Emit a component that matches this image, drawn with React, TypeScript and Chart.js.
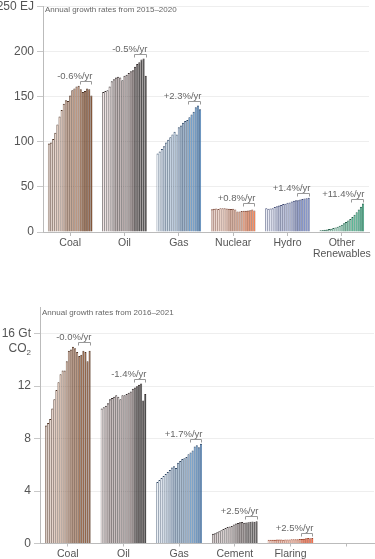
import React, { useEffect, useRef } from 'react';
import { Chart, registerables } from 'chart.js';
Chart.register(...registerables);

// ---------- Energy (EJ), 2000–2020 ----------
const energyYears = [2000, 2001, 2002, 2003, 2004, 2005, 2006, 2007, 2008, 2009, 2010, 2011, 2012, 2013, 2014, 2015, 2016, 2017, 2018, 2019, 2020];
const energyCategories: (string | string[])[] = ['Coal', 'Oil', 'Gas', 'Nuclear', 'Hydro', ['Other', 'Renewables']];
const energyCoal = [98, 99, 103, 110, 119, 128, 135, 142, 146, 145, 151, 157, 159, 161, 162, 158, 155, 156, 159, 158, 151];
const energyOil = [155, 156, 157, 161, 167, 169, 171, 172, 171, 168, 173, 174, 176, 178, 179, 183, 186, 188, 191, 192, 173];
const energyGas = [87, 89, 92, 95, 99, 102, 105, 108, 111, 108, 116, 118, 121, 123, 124, 127, 130, 133, 138, 140, 136];
const energyNuclear = [25.2, 25.7, 26.0, 25.6, 26.3, 26.2, 26.4, 25.9, 25.7, 25.4, 25.8, 24.8, 22.6, 22.8, 23.2, 23.4, 23.6, 23.8, 24.2, 24.8, 23.8];
const energyHydro = [26.2, 25.7, 25.9, 26.3, 27.8, 28.6, 29.4, 29.9, 31.0, 31.2, 32.4, 32.8, 33.7, 34.5, 35.2, 35.1, 36.0, 36.4, 37.1, 37.4, 38.0];
const energyOther = [1.8, 2.1, 2.4, 2.8, 3.2, 3.7, 4.3, 5.0, 5.9, 6.8, 8.1, 9.6, 11.2, 12.8, 14.5, 16.6, 19.0, 21.9, 24.9, 28.0, 31.5];
const energyGrowth = ['-0.6%/yr', '-0.5%/yr', '+2.3%/yr', '+0.8%/yr', '+1.4%/yr', '+11.4%/yr'];
const energyTicks = [0, 50, 100, 150, 200, 250];
const energyCaption = 'Annual growth rates from 2015\u20132020';

// ---------- CO2 (Gt), 2000–2021 ----------
const co2Years = [2000, 2001, 2002, 2003, 2004, 2005, 2006, 2007, 2008, 2009, 2010, 2011, 2012, 2013, 2014, 2015, 2016, 2017, 2018, 2019, 2020, 2021];
const co2Categories = ['Coal', 'Oil', 'Gas', 'Cement', 'Flaring', ''];
const co2Coal = [9.0, 9.2, 9.5, 10.3, 11.0, 11.7, 12.3, 12.9, 13.2, 13.2, 13.9, 14.7, 14.8, 15.0, 14.9, 14.6, 14.3, 14.4, 14.7, 14.6, 13.9, 14.7];
const co2Oil = [10.3, 10.4, 10.5, 10.7, 11.0, 11.1, 11.2, 11.3, 11.2, 11.0, 11.3, 11.3, 11.4, 11.5, 11.6, 11.8, 11.9, 12.0, 12.1, 12.2, 10.9, 11.4];
const co2Gas = [4.7, 4.85, 5.0, 5.15, 5.3, 5.45, 5.6, 5.8, 5.9, 5.75, 6.15, 6.3, 6.45, 6.5, 6.6, 6.8, 6.95, 7.1, 7.4, 7.5, 7.35, 7.6];
const co2Cement = [0.74, 0.79, 0.85, 0.93, 1.02, 1.1, 1.19, 1.26, 1.29, 1.34, 1.44, 1.53, 1.56, 1.62, 1.64, 1.58, 1.6, 1.62, 1.65, 1.67, 1.66, 1.7];
const co2Flaring = [0.28, 0.29, 0.29, 0.29, 0.3, 0.3, 0.3, 0.29, 0.3, 0.3, 0.31, 0.32, 0.32, 0.33, 0.33, 0.34, 0.35, 0.37, 0.4, 0.42, 0.4, 0.41];
const co2Growth = ['-0.0%/yr', '-1.4%/yr', '+1.7%/yr', '+2.5%/yr', '+2.5%/yr', ''];
const co2Ticks = [0, 4, 8, 12, 16];
const co2Caption = 'Annual growth rates from 2016\u20132021';

// ---------- styling ----------
type Pal = { from: string; mid: string; rFrom: string; rTo: string; border: string };
const PAL: Record<string, Pal> = {
  coal: { from: '#f3e6df', mid: '#b0846a', rFrom: '#96603f', rTo: '#7a4a2c', border: '#4e3223' },
  oil: { from: '#f3e6e6', mid: '#948686', rFrom: '#646060', rTo: '#2c2c2c', border: '#302828' },
  gas: { from: '#edf1f6', mid: '#88a4c2', rFrom: '#6598c8', rTo: '#4682c0', border: '#2f4866' },
  nuclear: { from: '#f5e6df', mid: '#c48e76', rFrom: '#f2926a', rTo: '#f47a48', border: '#7e4a3a' },
  hydro: { from: '#eceff7', mid: '#929cc2', rFrom: '#8494ca', rTo: '#6f82c2', border: '#3c4670' },
  other: { from: '#eaf6f0', mid: '#76c0a4', rFrom: '#4eb490', rTo: '#30a078', border: '#22604a' },
  cement: { from: '#f3e8e8', mid: '#9a9292', rFrom: '#747070', rTo: '#424242', border: '#383030' },
  flaring: { from: '#f7e2da', mid: '#e6a48c', rFrom: '#f67c5c', rTo: '#f2582e', border: '#9c4228' },
};
const energyPal = [PAL.coal, PAL.oil, PAL.gas, PAL.nuclear, PAL.hydro, PAL.other];
const co2Pal = [PAL.coal, PAL.oil, PAL.gas, PAL.cement, PAL.flaring, PAL.flaring];

function hex(h: string) {
  const v = h.replace('#', '');
  return [0, 2, 4].map((i) => parseInt(v.slice(i, i + 2), 16));
}
function mix(a: string, b: string, t: number) {
  const A = hex(a), B = hex(b);
  const c = A.map((x, i) => Math.round(x + (B[i] - x) * t));
  return `rgb(${c[0]},${c[1]},${c[2]})`;
}
function barColor(p: Pal, i: number, n: number) {
  const early = n - 6;
  if (i < early) return mix(p.from, p.mid, early > 1 ? i / (early - 1) : 0);
  return mix(p.rFrom, p.rTo, (i - early) / 5);
}

const FONT = '"Liberation Sans", Arial, Helvetica, sans-serif';
const TXT = '#555';
const AXIS = '#bbb';

type Cfg = {
  years: number[];
  categories: (string | string[])[];
  series: number[][];
  growth: string[];
  ticks: number[];
  caption: string;
  pal: Pal[];
  yMax: number;
  unit: string;
  yWidth: number;
  padTop: number;
  padRight: number;
  xTickLen: number;
  captionDx: number;
  captionDy: number;
  sub?: boolean;
};

function GroupChart({ cfg, width, height }: { cfg: Cfg; width: number; height: number }) {
  const ref = useRef<HTMLCanvasElement | null>(null);
  useEffect(() => {
    if (!ref.current) return;
    const n = cfg.years.length;
    const datasets = cfg.years.map((yr, i) => ({
      label: String(yr),
      data: cfg.categories.map((_, c) => (cfg.series[c] ? cfg.series[c][i] : null)),
      backgroundColor: cfg.categories.map((_, c) => barColor(cfg.pal[c], i, n)),
      borderColor: cfg.categories.map((_, c) => cfg.pal[c].border),
      borderWidth: { left: 0.7, right: 0.5, top: 1, bottom: 0 },
      borderSkipped: false as const,
      categoryPercentage: 0.82,
      barPercentage: 1,
    }));

    const overlay = {
      id: 'overlay',
      afterDatasetsDraw(chart: any) {
        const { ctx, chartArea } = chart;
        const ys = chart.scales.y;
        const N = chart.data.datasets.length;
        ctx.save();
        cfg.growth.forEach((label, c) => {
          if (!label) return;
          const first = chart.getDatasetMeta(N - 6).data[c];
          const last = chart.getDatasetMeta(N - 1).data[c];
          const x0 = Math.round(first.x - first.width / 2) + 0.5;
          const x1 = Math.round(last.x + last.width / 2) - 0.5;
          let mx = -Infinity;
          for (const s of cfg.series[c]) mx = Math.max(mx, s);
          const yy = Math.round(ys.getPixelForValue(mx) - 5) + 0.5;
          ctx.strokeStyle = '#999';
          ctx.lineWidth = 1;
          ctx.beginPath();
          ctx.moveTo(x0, yy + 3);
          ctx.lineTo(x0, yy);
          ctx.lineTo(x1, yy);
          ctx.lineTo(x1, yy + 3);
          ctx.stroke();
          ctx.fillStyle = '#666';
          ctx.font = `9.5px ${FONT}`;
          ctx.textAlign = 'right';
          ctx.textBaseline = 'alphabetic';
          ctx.fillText(label, x1 + 1, yy - 3);
        });
        // caption
        ctx.fillStyle = '#666';
        ctx.font = `8px ${FONT}`;
        ctx.textAlign = 'left';
        ctx.textBaseline = 'middle';
        ctx.fillText(cfg.caption, chartArea.left + cfg.captionDx, chartArea.top + cfg.captionDy);
        // CO2 sub-line
        if (cfg.sub) {
          const top = cfg.ticks[cfg.ticks.length - 1];
          const y = ys.getPixelForValue(top) + 15;
          const right = chartArea.left - 9;
          ctx.fillStyle = TXT;
          ctx.textBaseline = 'middle';
          ctx.font = `8px ${FONT}`;
          const w2 = ctx.measureText('2').width;
          ctx.textAlign = 'right';
          ctx.fillText('2', right, y + 4);
          ctx.font = `12px ${FONT}`;
          ctx.fillText('CO', right - w2, y);
        }
        ctx.restore();
      },
    };

    const chart = new Chart(ref.current, {
      type: 'bar',
      data: { labels: cfg.categories as any, datasets: datasets as any },
      plugins: [overlay],
      options: {
        responsive: false,
        animation: false,
        events: [],
        layout: { padding: { top: cfg.padTop, right: cfg.padRight, left: 0, bottom: 0 } },
        plugins: { legend: { display: false }, tooltip: { enabled: false } },
        scales: {
          x: {
            offset: true,
            grid: { display: true, drawOnChartArea: false, drawTicks: true, tickLength: cfg.xTickLen, offset: false, color: AXIS },
            border: { display: true, color: AXIS },
            ticks: {
              color: TXT,
              font: { family: FONT, size: 10.5, lineHeight: 1.0 },
              padding: 2,
              maxRotation: 0,
              autoSkip: false,
            },
          },
          y: {
            min: 0,
            max: cfg.yMax,
            afterBuildTicks: (s: any) => {
              s.ticks = cfg.ticks.map((v) => ({ value: v }));
            },
            afterFit: (s: any) => {
              s.width = cfg.yWidth;
            },
            grid: { color: '#eeeeee', tickColor: '#c8c8c8', tickLength: 6 },
            border: { display: true, color: AXIS },
            ticks: {
              color: TXT,
              padding: 3,
              font: { family: FONT, size: 12 },
              callback: (v: any) => (v === cfg.ticks[cfg.ticks.length - 1] ? `${v} ${cfg.unit}` : `${v}`),
            },
          },
        },
      } as any,
    });
    return () => chart.destroy();
  }, [cfg, width, height]);
  return <canvas ref={ref} width={width} height={height} style={{ display: 'block', width, height }} />;
}

const energyCfg: Cfg = {
  years: energyYears,
  categories: energyCategories,
  series: [energyCoal, energyOil, energyGas, energyNuclear, energyHydro, energyOther],
  growth: energyGrowth,
  ticks: energyTicks,
  caption: energyCaption,
  pal: energyPal,
  yMax: 250,
  unit: 'EJ',
  yWidth: 43,
  padTop: 0,
  padRight: 6,
  xTickLen: 4,
  captionDx: 2,
  captionDy: 4,
};

const co2Cfg: Cfg = {
  years: co2Years,
  categories: co2Categories,
  series: [co2Coal, co2Oil, co2Gas, co2Cement, co2Flaring],
  growth: co2Growth,
  ticks: co2Ticks,
  caption: co2Caption,
  pal: co2Pal,
  yMax: 18,
  unit: 'Gt',
  yWidth: 40,
  padTop: 17.5,
  padRight: 1,
  xTickLen: 3,
  captionDx: 2,
  captionDy: 5,
  sub: true,
};

export default function App() {
  return (
    <div style={{ position: 'absolute', left: 0, top: 0, width: 375, height: 559, overflow: 'hidden', background: '#fff' }}>
      <div style={{ position: 'absolute', left: 0, top: -4 }}>
        <GroupChart cfg={energyCfg} width={375} height={265} />
      </div>
      <div style={{ position: 'absolute', left: 0, top: 290 }}>
        <GroupChart cfg={co2Cfg} width={375} height={271} />
      </div>
    </div>
  );
}
